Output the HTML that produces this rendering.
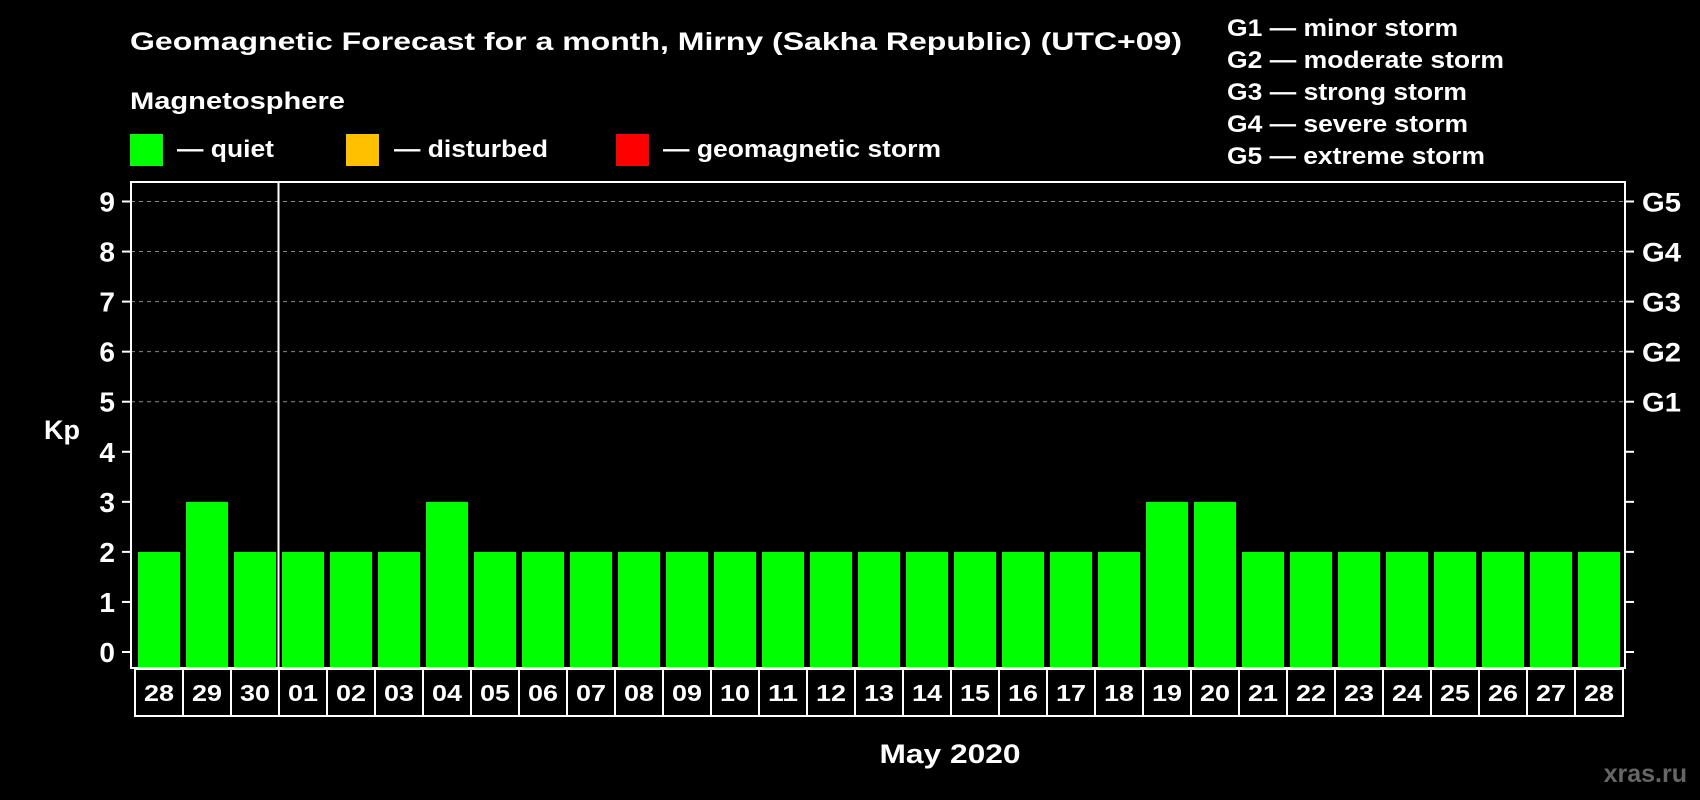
<!DOCTYPE html>
<html><head><meta charset="utf-8"><style>
html,body{margin:0;padding:0;background:#000;}
svg{display:block;font-family:"Liberation Sans",Arial,sans-serif;font-weight:bold;}
</style></head><body>
<svg id="chart" width="1700" height="800" viewBox="0 0 1700 800">
<text x="130" y="50" fill="#fff" font-size="25" textLength="1052" lengthAdjust="spacingAndGlyphs">Geomagnetic Forecast for a month, Mirny (Sakha Republic) (UTC+09)</text>
<text x="130" y="109" fill="#fff" font-size="24" textLength="215" lengthAdjust="spacingAndGlyphs">Magnetosphere</text>
<g><rect x="130" y="134" width="33" height="32" fill="#00ff00"/><text x="177" y="157" fill="#fff" font-size="24" textLength="97" lengthAdjust="spacingAndGlyphs">— quiet</text></g>
<g><rect x="346" y="134" width="33" height="32" fill="#ffc000"/><text x="394" y="157" fill="#fff" font-size="24" textLength="154" lengthAdjust="spacingAndGlyphs">— disturbed</text></g>
<g><rect x="616" y="134" width="33" height="32" fill="#ff0000"/><text x="663" y="157" fill="#fff" font-size="24" textLength="278" lengthAdjust="spacingAndGlyphs">— geomagnetic storm</text></g>
<g fill="#fff" font-size="24">
<text x="1227" y="36" textLength="231" lengthAdjust="spacingAndGlyphs">G1 — minor storm</text>
<text x="1227" y="68" textLength="277" lengthAdjust="spacingAndGlyphs">G2 — moderate storm</text>
<text x="1227" y="100" textLength="240" lengthAdjust="spacingAndGlyphs">G3 — strong storm</text>
<text x="1227" y="132" textLength="241" lengthAdjust="spacingAndGlyphs">G4 — severe storm</text>
<text x="1227" y="164" textLength="258" lengthAdjust="spacingAndGlyphs">G5 — extreme storm</text>
</g>
<text x="62" y="439" fill="#fff" font-size="27" text-anchor="middle">Kp</text>
<text x="950" y="763" fill="#fff" font-size="27" text-anchor="middle" textLength="141" lengthAdjust="spacingAndGlyphs">May 2020</text>
<text x="1687" y="782" fill="#666" font-size="25" text-anchor="end">xras.ru</text>
<g id="grid"></g><g id="bars"></g><g id="axes"></g>
</svg>
<script>
const days=["28","29","30","01","02","03","04","05","06","07","08","09","10","11","12","13","14","15","16","17","18","19","20","21","22","23","24","25","26","27","28"];
const kp=[2,3,2,2,2,2,3,2,2,2,2,2,2,2,2,2,2,2,2,2,2,3,3,2,2,2,2,2,2,2,2];
const yTicks=[0,1,2,3,4,5,6,7,8,9];
const gLabels=["G1","G2","G3","G4","G5"];
const gLevels=[5,6,7,8,9];
const NS="http://www.w3.org/2000/svg";
const L=131,R=1625,T=182,B=668,PITCH=48,X0=135,BW=42;
const y=v=>652-v*(652-201.5)/9;
const x=i=>X0+i*PITCH;
function mk(tag,attrs,parent){const e=document.createElementNS(NS,tag);for(const k in attrs)e.setAttribute(k,attrs[k]);document.getElementById(parent).appendChild(e);return e;}
gLevels.forEach((v,i)=>{
 const l=mk('line',{x1:L,x2:R,y1:y(v),y2:y(v),stroke:'#888','stroke-width':1,'stroke-dasharray':'4,4'},'grid');
 
 
 const t=mk('text',{x:1642,y:y(v)+10,fill:'#fff','font-size':27,textLength:39,lengthAdjust:'spacingAndGlyphs'},'axes');t.textContent=gLabels[i];
 
 
});
kp.forEach((v,i)=>{
 const r=mk('rect',{x:x(i)+3,y:y(v),width:BW,height:B-y(v),fill:'#00ff00'},'bars');
 
 
 const b=mk('rect',{x:x(i),y:669,width:PITCH,height:47,fill:'none',stroke:'#fff','stroke-width':2},'axes');
 
 
 const t=mk('text',{x:x(i)+PITCH/2,y:701,fill:'#fff','font-size':23,'text-anchor':'middle',textLength:30,lengthAdjust:'spacingAndGlyphs'},'axes');t.textContent=days[i];
 
 
});
yTicks.forEach(v=>{
 const t=mk('text',{x:115,y:y(v)+10,fill:'#fff','font-size':28,'text-anchor':'end'},'axes');t.textContent=v;
 
 
 mk('line',{x1:122,x2:L,y1:y(v),y2:y(v),stroke:'#fff','stroke-width':2},'axes');
 mk('line',{x1:R,x2:1634,y1:y(v),y2:y(v),stroke:'#fff','stroke-width':2},'axes');
});
const f=mk('rect',{x:L,y:T,width:R-L,height:B-T,fill:'none',stroke:'#fff','stroke-width':2},'axes');


const m=mk('line',{x1:x(3)-0.5,x2:x(3)-0.5,y1:T,y2:B,stroke:'#fff','stroke-width':2},'axes');


</script>
</body></html>
